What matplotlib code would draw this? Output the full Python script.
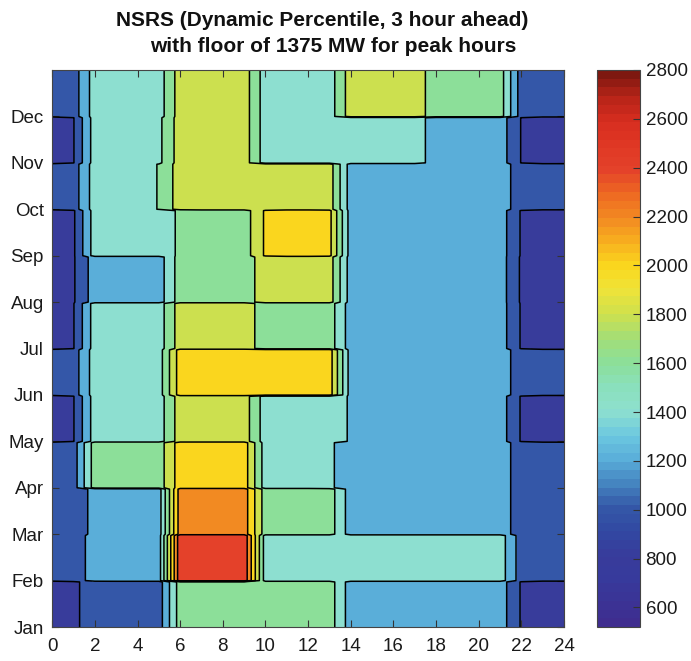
import numpy as np
import matplotlib
matplotlib.use("Agg")
import matplotlib.pyplot as plt
from matplotlib.colors import LinearSegmentedColormap, Normalize
from matplotlib.cm import ScalarMappable

plt.rcParams['font.family'] = ['Liberation Sans', 'DejaVu Sans']

# ---- data: NSRS requirement (MW) by month (rows) and hour 0..24 (columns)
hours = list(range(25))
month_labels = ['Jan', 'Feb', 'Mar', 'Apr', 'May', 'Jun',
                'Jul', 'Aug', 'Sep', 'Oct', 'Nov', 'Dec']

jan = [750, 860, 1000, 1000, 1000, 1000, 1600, 1600, 1600, 1600, 1600, 1600, 1600,
       1600, 1200, 1200, 1200, 1200, 1200, 1200, 1200, 1200, 880, 750, 750]
feb = [1000, 1000, 1180, 1200, 1200, 1200, 2450, 2450, 2450, 2450, 1400, 1400, 1400,
       1400, 1400, 1400, 1400, 1400, 1400, 1400, 1400, 1400, 1000, 1000, 1000]
mar = [1000, 1000, 1150, 1200, 1200, 1200, 2200, 2200, 2200, 2200, 1600, 1600, 1600,
       1600, 1200, 1200, 1200, 1200, 1200, 1200, 1200, 1200, 1000, 1000, 1000]
apr = [1000, 1000, 1600, 1600, 1600, 1600, 2000, 2000, 2000, 2000, 1400, 1400, 1400,
       1330, 1200, 1200, 1200, 1200, 1200, 1200, 1200, 1200, 1000, 1000, 1000]
may = [750, 890, 1400, 1400, 1400, 1400, 1800, 1800, 1800, 1800, 1400, 1400, 1400,
       1400, 1280, 1200, 1200, 1200, 1200, 1200, 1200, 1200, 880, 750, 750]
jun = [1000, 1000, 1400, 1400, 1400, 1400, 2000, 2000, 2000, 2000, 2000, 2000, 2000,
       2000, 1200, 1200, 1200, 1200, 1200, 1200, 1200, 1200, 1000, 1000, 1000]
jul = [750, 890, 1400, 1400, 1400, 1400, 1800, 1800, 1800, 1800, 1600, 1600, 1600,
       1600, 1200, 1200, 1200, 1200, 1200, 1200, 1200, 1200, 880, 750, 750]
aug = [750, 880, 1200, 1200, 1200, 1200, 1600, 1600, 1600, 1600, 1800, 1800, 1800,
       1800, 1200, 1200, 1200, 1200, 1200, 1200, 1200, 1200, 870, 750, 750]
sep = [750, 870, 1400, 1400, 1400, 1400, 1530, 1600, 1600, 1600, 1930, 2000, 2000,
       1960, 1200, 1200, 1200, 1200, 1200, 1200, 1200, 1200, 880, 750, 750]
oct_ = [1000, 1000, 1400, 1400, 1400, 1510, 1800, 1800, 1800, 1800, 1800, 1800, 1800,
        1800, 1200, 1200, 1200, 1200, 1200, 1200, 1200, 1200, 1000, 1000, 1000]
nov = [750, 890, 1400, 1400, 1400, 1450, 1800, 1800, 1800, 1800, 1400, 1400, 1400,
       1400, 1400, 1400, 1400, 1400, 1200, 1200, 1200, 1200, 890, 750, 750]
dec = [1000, 1000, 1400, 1400, 1400, 1400, 1800, 1800, 1800, 1800, 1400, 1400, 1400,
       1400, 1800, 1800, 1800, 1800, 1600, 1600, 1600, 1600, 1000, 1000, 1000]

months_data = [jan, feb, mar, apr, may, jun, jul, aug, sep, oct_, nov, dec]

contour_levels = list(range(500, 3000, 200))
cbar_ticks = list(range(600, 2801, 200))
cmin, cmax = 520, 2800

# ---- colormap (sampled from the reference colour bar)
anchors = [
    (520, '#3f2d8f'), (700, '#373a9c'), (800, '#383c9b'), (900, '#3248a2'),
    (1000, '#3458a8'), (1100, '#4585c0'), (1200, '#5aaed9'), (1300, '#6cc8e0'),
    (1400, '#8ee0cf'), (1500, '#8ae0bc'), (1600, '#8cdf9a'), (1700, '#a2de78'),
    (1800, '#cde04e'), (1900, '#eee33a'), (2000, '#fad81e'), (2100, '#f8b01f'),
    (2200, '#f28a22'), (2300, '#ee6a22'), (2400, '#e4422a'), (2500, '#e03824'),
    (2600, '#d82e20'), (2700, '#b82418'), (2800, '#7e1810')]
cmap = LinearSegmentedColormap.from_list(
    'ref', [((v - cmin) / (cmax - cmin), c) for v, c in anchors])
cmap_bar = LinearSegmentedColormap.from_list(
    'ref64', [((v - cmin) / (cmax - cmin), c) for v, c in anchors], N=64)
norm = Normalize(vmin=cmin, vmax=cmax)

# ---- grid with sharp month edges
V = np.array(months_data, dtype=float)
d = 0.03
ys = []
for m in range(1, 13):
    ys.append(m)
    ys.append(m + 1 - d if m < 12 else 13)
Y = np.array(ys)
Z = np.repeat(V, 2, axis=0)
X = np.array(hours, dtype=float)

W, H = 691, 661
fig = plt.figure(figsize=(W / 100, H / 100), dpi=100)
ax = fig.add_axes([52.2 / W, (H - 627) / H, (564 - 52.2) / W, (627 - 70) / H])

ax.contourf(X, Y, Z, levels=contour_levels, cmap=cmap, norm=norm)
ax.contour(X, Y, Z, levels=contour_levels, colors='k', linewidths=1.1)

ax.set_xlim(0, 24)
ax.set_ylim(1, 13)
ax.set_xticks(range(0, 25, 2))
ax.set_yticks(range(1, 13))
ax.set_yticklabels(month_labels)
ax.tick_params(direction='in', top=True, right=True, length=5, width=0.8,
               labelsize=13.5, colors='#333333', labelcolor='#1a1a1a')
ax.tick_params(axis='x', pad=8)
ax.tick_params(axis='y', pad=6)
for s in ax.spines.values():
    s.set_color('#444444')
    s.set_linewidth(0.8)

cax = fig.add_axes([597 / W, (H - 627) / H, 43 / W, (627 - 70) / H])
sm = ScalarMappable(norm=norm, cmap=cmap_bar)
cb = fig.colorbar(sm, cax=cax, ticks=cbar_ticks)
cb.ax.tick_params(direction='in', length=5, width=0.8, labelsize=13.5,
                  colors='#333333', labelcolor='#1a1a1a', pad=4)
cb.outline.set_edgecolor('#444444')
cb.outline.set_linewidth(0.8)

fig.text(528 / W, 1 - 26 / H, 'NSRS (Dynamic Percentile, 3 hour ahead)',
         ha='right', va='baseline', fontsize=15, fontweight='bold', color='#111111')
fig.text(333 / W, 1 - 52 / H, 'with floor of 1375 MW for peak hours',
         ha='center', va='baseline', fontsize=15, fontweight='bold', color='#111111')

fig.savefig('out.png', dpi=100)
